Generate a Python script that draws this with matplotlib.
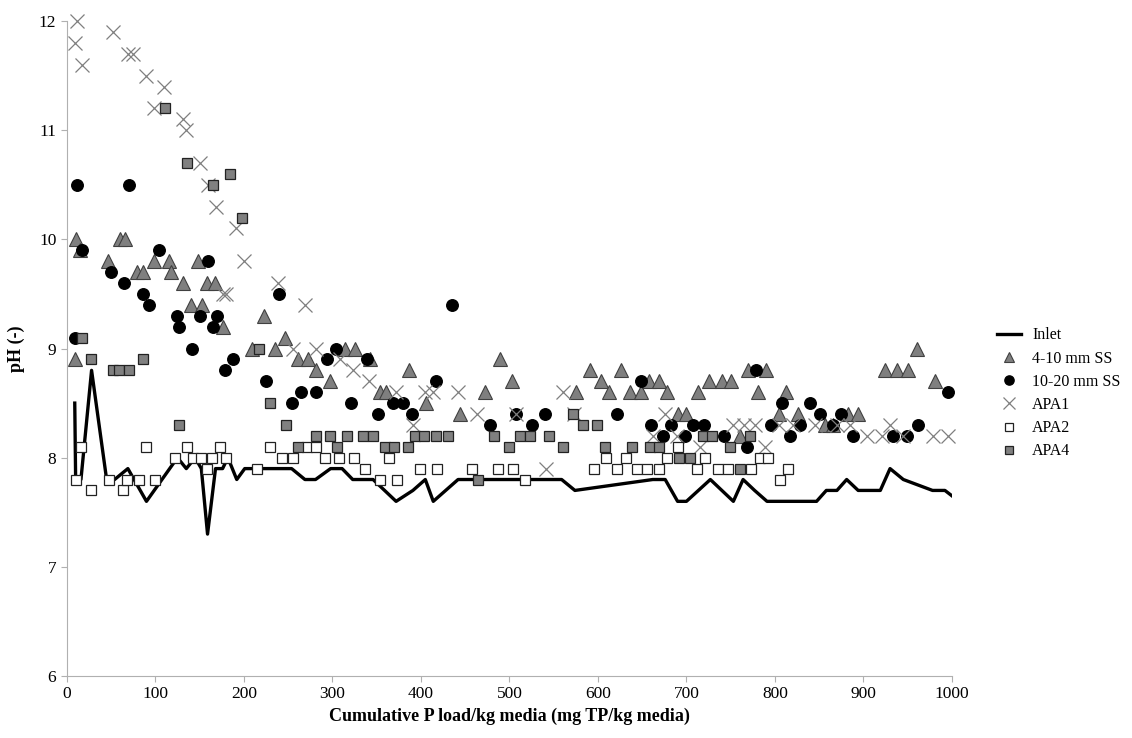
import matplotlib.pyplot as plt

plt.rcParams['font.family'] = ['Liberation Serif', 'DejaVu Serif']

# Inlet pH (line)
inlet_x = [9, 10, 16, 28, 45, 54, 69, 90, 125, 135, 145, 152, 159, 168, 176, 182, 192, 201,
           254, 269, 281, 298, 311, 323, 346, 372, 391, 405, 414, 442, 559, 574, 662, 676,
           690, 700, 727, 753, 764, 777, 791, 847, 858, 870, 881, 894, 919, 930, 945, 978,
           992, 1000]
inlet_y = [8.5, 7.8, 7.8, 8.8, 7.8, 7.8, 7.9, 7.6, 8.0, 7.9, 8.0, 7.9, 7.3, 7.9, 7.9, 8.0, 7.8, 7.9,
           7.9, 7.8, 7.8, 7.9, 7.9, 7.8, 7.8, 7.6, 7.7, 7.8, 7.6, 7.8, 7.8, 7.7, 7.8, 7.8,
           7.6, 7.6, 7.8, 7.6, 7.8, 7.7, 7.6, 7.6, 7.7, 7.7, 7.8, 7.7, 7.7, 7.9, 7.8, 7.7,
           7.7, 7.65]

# 4-10 mm SS
ss4_x = [9, 10, 15, 47, 60, 66, 79, 86, 98, 115, 118, 131, 140, 148, 153, 158, 167, 176,
         209, 223, 235, 246, 261, 273, 281, 297, 314, 326, 342, 354, 361, 387, 406, 444,
         472, 489, 503, 575, 591, 604, 613, 626, 636, 649, 658, 669, 678, 691, 700, 713,
         725, 740, 750, 760, 770, 781, 790, 804, 813, 826, 857, 866, 883, 894, 924, 938,
         950, 961, 981]
ss4_y = [8.9, 10.0, 9.9, 9.8, 10.0, 10.0, 9.7, 9.7, 9.8, 9.8, 9.7, 9.6, 9.4, 9.8, 9.4, 9.6, 9.6, 9.2,
         9.0, 9.3, 9.0, 9.1, 8.9, 8.9, 8.8, 8.7, 9.0, 9.0, 8.9, 8.6, 8.6, 8.8, 8.5, 8.4,
         8.6, 8.9, 8.7, 8.6, 8.8, 8.7, 8.6, 8.8, 8.6, 8.6, 8.7, 8.7, 8.6, 8.4, 8.4, 8.6,
         8.7, 8.7, 8.7, 8.2, 8.8, 8.6, 8.8, 8.4, 8.6, 8.4, 8.3, 8.3, 8.4, 8.4, 8.8, 8.8,
         8.8, 9.0, 8.7]

# 10-20 mm SS
ss10_x = [9, 12, 17, 50, 65, 70, 86, 93, 104, 124, 127, 142, 151, 159, 165, 170, 179, 188,
          225, 240, 254, 265, 282, 294, 304, 321, 339, 351, 368, 380, 390, 417, 435, 478,
          508, 526, 540, 621, 649, 660, 673, 683, 698, 707, 720, 742, 768, 779, 795, 808,
          817, 828, 840, 851, 865, 875, 888, 933, 949, 962, 995]
ss10_y = [9.1, 10.5, 9.9, 9.7, 9.6, 10.5, 9.5, 9.4, 9.9, 9.3, 9.2, 9.0, 9.3, 9.8, 9.2, 9.3, 8.8, 8.9,
          8.7, 9.5, 8.5, 8.6, 8.6, 8.9, 9.0, 8.5, 8.9, 8.4, 8.5, 8.5, 8.4, 8.7, 9.4, 8.3,
          8.4, 8.3, 8.4, 8.4, 8.7, 8.3, 8.2, 8.3, 8.2, 8.3, 8.3, 8.2, 8.1, 8.8, 8.3, 8.5,
          8.2, 8.3, 8.5, 8.4, 8.3, 8.4, 8.2, 8.2, 8.2, 8.3, 8.6]

# APA1
apa1_x = [9, 12, 17, 52, 69, 75, 90, 98, 110, 131, 135, 150, 159, 168, 176, 180, 191, 200,
          239, 255, 269, 282, 309, 323, 341, 372, 391, 405, 414, 442, 463, 508, 541, 561,
          573, 662, 676, 689, 715, 753, 765, 777, 789, 805, 820, 845, 870, 885, 904, 921,
          930, 945, 979, 996]
apa1_y = [11.8, 12.0, 11.6, 11.9, 11.7, 11.7, 11.5, 11.2, 11.4, 11.1, 11.0, 10.7, 10.5, 10.3, 9.5, 9.5, 10.1, 9.8,
          9.6, 9.0, 9.4, 9.0, 8.9, 8.8, 8.7, 8.6, 8.3, 8.6, 8.6, 8.6, 8.4, 8.4, 7.9, 8.6,
          8.4, 8.2, 8.4, 8.2, 8.1, 8.3, 8.3, 8.3, 8.1, 8.3, 8.3, 8.3, 8.3, 8.3, 8.2, 8.2,
          8.3, 8.2, 8.2, 8.2]

# APA2
apa2_x = [10, 16, 27, 48, 63, 68, 82, 90, 100, 122, 136, 143, 152, 158, 164, 173, 180, 215,
          229, 243, 255, 271, 281, 292, 307, 324, 337, 354, 364, 373, 399, 418, 458, 487,
          504, 518, 596, 609, 622, 632, 644, 655, 669, 678, 690, 712, 721, 736, 747, 773,
          783, 792, 806, 815]
apa2_y = [7.8, 8.1, 7.7, 7.8, 7.7, 7.8, 7.8, 8.1, 7.8, 8.0, 8.1, 8.0, 8.0, 7.9, 8.0, 8.1, 8.0, 7.9,
          8.1, 8.0, 8.0, 8.1, 8.1, 8.0, 8.0, 8.0, 7.9, 7.8, 8.0, 7.8, 7.9, 7.9, 7.9, 7.9,
          7.9, 7.8, 7.9, 8.0, 7.9, 8.0, 7.9, 7.9, 7.9, 8.0, 8.1, 7.9, 8.0, 7.9, 7.9, 7.9,
          8.0, 8.0, 7.8, 7.9]

# APA4
apa4_x = [17, 27, 52, 59, 70, 86, 111, 127, 136, 165, 184, 198, 217, 230, 248, 261, 281, 297,
          305, 317, 335, 346, 359, 370, 385, 393, 403, 417, 431, 464, 483, 500, 512, 523,
          545, 560, 572, 583, 599, 608, 639, 659, 669, 692, 704, 719, 729, 749, 760, 772]
apa4_y = [9.1, 8.9, 8.8, 8.8, 8.8, 8.9, 11.2, 8.3, 10.7, 10.5, 10.6, 10.2, 9.0, 8.5, 8.3, 8.1, 8.2, 8.2,
          8.1, 8.2, 8.2, 8.2, 8.1, 8.1, 8.1, 8.2, 8.2, 8.2, 8.2, 7.8, 8.2, 8.1, 8.2, 8.2,
          8.2, 8.1, 8.4, 8.3, 8.3, 8.1, 8.1, 8.1, 8.1, 8.0, 8.0, 8.2, 8.2, 8.1, 7.9, 8.2]

fig = plt.figure(figsize=(11.32, 7.38), dpi=100)
ax = fig.add_axes([0.059, 0.084, 0.782, 0.8875])

ax.plot(inlet_x, inlet_y, color='black', lw=2.4, label='Inlet', zorder=2)
ax.plot(ss4_x, ss4_y, ls='none', marker='^', ms=9.5, mfc='#7f7f7f', mec='#404040', mew=0.8,
        label='4-10 mm SS', zorder=3, clip_on=False)
ax.plot(ss10_x, ss10_y, ls='none', marker='o', ms=8.3, mfc='black', mec='black',
        label='10-20 mm SS', zorder=3, clip_on=False)
ax.plot(apa1_x, apa1_y, ls='none', marker='x', ms=10, mec='#7f7f7f', mew=0.9,
        label='APA1', zorder=4, clip_on=False)
ax.plot(apa2_x, apa2_y, ls='none', marker='s', ms=7.5, mfc='white', mec='#222222', mew=0.9,
        label='APA2', zorder=4, clip_on=False)
ax.plot(apa4_x, apa4_y, ls='none', marker='s', ms=7.5, mfc='#808080', mec='#222222', mew=0.9,
        label='APA4', zorder=4, clip_on=False)

ax.set_xlim(0, 1000)
ax.set_ylim(6, 12)
ax.set_xticks(range(0, 1001, 100))
ax.set_yticks(range(6, 13))
for s in ['top', 'right']:
    ax.spines[s].set_visible(False)
for s in ['left', 'bottom']:
    ax.spines[s].set_color('#b0b0b0')
ax.tick_params(direction='out', length=4, color='#b0b0b0', labelsize=12.5)
ax.set_xlabel('Cumulative P load/kg media (mg TP/kg media)', fontsize=13, fontweight='bold', labelpad=4)
ax.set_ylabel('pH (-)', fontsize=13, fontweight='bold', labelpad=10)

fig.legend(loc='center left', bbox_to_anchor=(0.868, 0.467), frameon=False, fontsize=11.5,
           handlelength=1.5, handletextpad=0.7, labelspacing=0.45, numpoints=1, markerscale=0.8)

fig.savefig('out.png', dpi=100)
